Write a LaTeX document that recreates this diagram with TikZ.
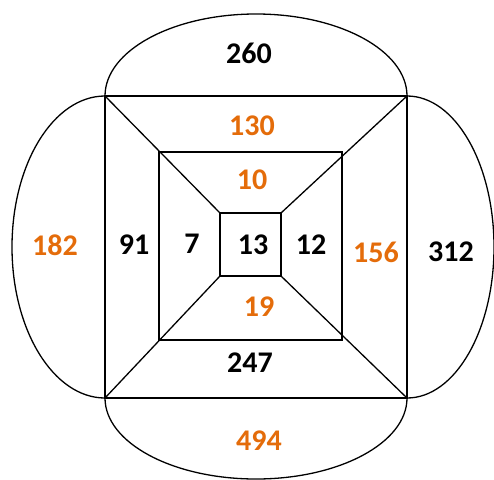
\documentclass[tikz,border=0pt]{standalone}
\usepackage{fontspec}
\setmainfont{Carlito}
\definecolor{accentorange}{HTML}{E46C0A}

\begin{document}
\begin{tikzpicture}[x=1pt,y=-1pt,line width=1.3pt,
    num/.style={font=\fontsize{30}{30}\selectfont\bfseries,inner sep=0pt},
    numblack/.style={num,text=black},
    numorange/.style={num,text=accentorange}]
  \useasboundingbox (0,0) rectangle (494,479);

  % squares
  \coordinate (otl) at (105,96);  \coordinate (obr) at (407,398);
  \coordinate (otr) at (407,96);  \coordinate (obl) at (105,398);
  \coordinate (mtl) at (159,152); \coordinate (mbr) at (342,340);
  \coordinate (itl) at (220,213); \coordinate (ibr) at (281,276);
  \coordinate (itr) at (281,213); \coordinate (ibl) at (220,276);
  \draw (otl) rectangle (obr);
  \draw (mtl) rectangle (mbr);
  \draw (itl) rectangle (ibr);

  % diagonals
  \draw (otl) -- (itl);
  \draw (otr) -- (itr);
  \draw (obl) -- (ibl);
  \draw (obr) -- (ibr);

  % half ellipses
  \draw (otl) arc[start angle=180,end angle=0,x radius=151pt,y radius=82pt];
  \draw (otl) arc[start angle=90,end angle=270,x radius=93pt,y radius=151pt];
  \draw (otr) arc[start angle=90,end angle=-90,x radius=87pt,y radius=151pt];
  \draw (obl) arc[start angle=180,end angle=360,x radius=151pt,y radius=81pt];

  % numbers
  \node[numblack]  (top)    at (249,53)  {260};
  \node[numorange] (outtop) at (252,126) {130};
  \node[numorange] (midtop) at (252,180) {10};
  \node[numorange] (left)   at (55,245)  {182};
  \node[numblack]  (outlft) at (134,245) {91};
  \node[numblack]  (midlft) at (192,244) {7};
  \node[numblack]  (centre) at (253,245) {13};
  \node[numblack]  (midrgt) at (311,245) {12};
  \node[numorange] (outrgt) at (376,252) {156};
  \node[numblack]  (right)  at (451,252) {312};
  \node[numorange] (midbot) at (259,307) {19};
  \node[numblack]  (outbot) at (250,363) {247};
  \node[numorange] (bottom) at (259,441) {494};
\end{tikzpicture}
\end{document}
